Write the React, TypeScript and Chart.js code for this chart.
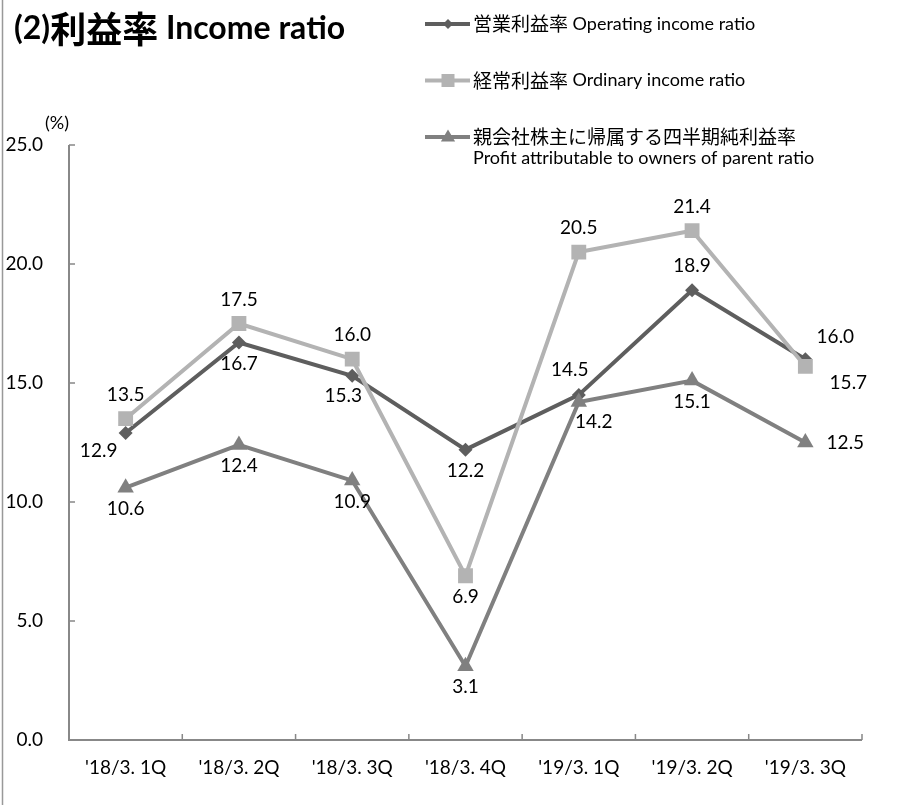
import React, { useEffect, useRef } from 'react';
import { Chart, registerables } from 'chart.js';

Chart.register(...registerables);

// ---------- data ----------
const categories = ["'18/3. 1Q", "'18/3. 2Q", "'18/3. 3Q", "'18/3. 4Q", "'19/3. 1Q", "'19/3. 2Q", "'19/3. 3Q"];
const operatingRatio = [12.9, 16.7, 15.3, 12.2, 14.5, 18.9, 16.0];
const ordinaryRatio = [13.5, 17.5, 16.0, 6.9, 20.5, 21.4, 15.7];
const profitRatio = [10.6, 12.4, 10.9, 3.1, 14.2, 15.1, 12.5];
const yTicks = [0, 5, 10, 15, 20, 25];
const yUnit = '(%)';
const titleParts = ['(2)', '利益率', ' Income ratio'];
const seriesNamesJa = ['営業利益率', '経常利益率', '親会社株主に帰属する四半期純利益率'];
const seriesNamesEn = ['Operating income ratio', 'Ordinary income ratio', 'Profit attributable to owners of parent ratio'];

// label placement codes
const operatingLabelPos = ['bl', 'b', 'bL', 'b', 'aL', 'a', 'ar'];
const ordinaryLabelPos = ['a', 'a', 'a', 'b', 'a', 'a', 'br'];
const profitLabelPos = ['b', 'b', 'b', 'b', 'bR', 'b', 'r'];

// ---------- style ----------
const LATIN = "Lato, 'Noto Sans CJK JP', sans-serif";
const CJK = "'Noto Sans CJK JP', sans-serif";
const seriesColors = ['#5e5e5e', '#b3b3b3', '#808080'];
const pointStyles = ['rectRot', 'rect', 'triangle'];
const pointRadii = [7, 10.5, 9.5];
const axisColor = '#888888';
const placeOffset: Record<string, [number, number]> = {
  a: [0, -24],
  aL: [-9, -25],
  b: [0, 21],
  bL: [-9, 20],
  bR: [15, 20],
  bl: [-27, 18],
  ar: [30, -22],
  br: [43, 17],
  r: [40, 0],
};

function drawSegments(ctx: CanvasRenderingContext2D, x: number, y: number, segs: [string, string][]) {
  ctx.textAlign = 'left';
  ctx.textBaseline = 'middle';
  let cx = x;
  for (const [t, f] of segs) {
    ctx.font = f;
    ctx.fillText(t, cx, y);
    cx += ctx.measureText(t).width;
  }
}

function drawMarker(ctx: CanvasRenderingContext2D, style: string, x: number, y: number, r: number, color: string) {
  ctx.save();
  ctx.fillStyle = color;
  ctx.beginPath();
  if (style === 'rectRot') {
    ctx.moveTo(x - r, y);
    ctx.lineTo(x, y - r);
    ctx.lineTo(x + r, y);
    ctx.lineTo(x, y + r);
  } else if (style === 'rect') {
    ctx.rect(x - r, y - r, 2 * r, 2 * r);
  } else {
    ctx.moveTo(x, y - r);
    ctx.lineTo(x + r * 0.95, y + r * 0.6);
    ctx.lineTo(x - r * 0.95, y + r * 0.6);
  }
  ctx.closePath();
  ctx.fill();
  ctx.restore();
}

const decorPlugin = {
  id: 'decor',
  beforeDatasetsDraw(chart: any) {
    const ctx: CanvasRenderingContext2D = chart.ctx;
    const { left, right, bottom } = chart.chartArea;
    const yScale = chart.scales.y;
    const n = categories.length;
    ctx.save();
    // outer frame line on the left
    ctx.strokeStyle = '#999999';
    ctx.lineWidth = 1.5;
    ctx.beginPath();
    ctx.moveTo(2.5, 0);
    ctx.lineTo(2.5, chart.height);
    ctx.stroke();

    ctx.strokeStyle = axisColor;
    ctx.lineWidth = 2;
    const yTop = yScale.getPixelForValue(yTicks[yTicks.length - 1]);
    ctx.beginPath();
    ctx.moveTo(left, yTop);
    ctx.lineTo(left, bottom);
    ctx.lineTo(right, bottom);
    ctx.stroke();
    ctx.lineWidth = 1.5;
    ctx.beginPath();
    for (const v of yTicks) {
      const y = yScale.getPixelForValue(v);
      ctx.moveTo(left, y);
      ctx.lineTo(left + 6, y);
    }
    for (let i = 0; i <= n; i++) {
      const x = left + ((right - left) * i) / n;
      ctx.moveTo(x, bottom);
      ctx.lineTo(x, bottom - 6);
    }
    ctx.stroke();
    ctx.restore();
  },
  afterDatasetsDraw(chart: any) {
    const ctx: CanvasRenderingContext2D = chart.ctx;
    ctx.save();
    // data labels
    ctx.fillStyle = '#000';
    ctx.font = `19px ${LATIN}`;
    ctx.textAlign = 'center';
    ctx.textBaseline = 'middle';
    chart.data.datasets.forEach((ds: any, di: number) => {
      const meta = chart.getDatasetMeta(di);
      meta.data.forEach((pt: any, j: number) => {
        const off = placeOffset[ds.labelPos[j]] || [0, -24];
        ctx.fillText(Number(ds.data[j]).toFixed(1), pt.x + off[0], pt.y + off[1]);
      });
    });

    // unit
    ctx.font = `18px ${LATIN}`;
    ctx.fillText(yUnit, 57, 123);

    // title
    ctx.fillStyle = '#000';
    drawSegments(ctx, 14, 29, [
      [titleParts[0], `bold 32px ${LATIN}`],
      [titleParts[1], `bold 36px ${CJK}`],
      [titleParts[2], `bold 32px ${LATIN}`],
    ]);

    // legend
    for (let i = 0; i < seriesNamesJa.length; i++) {
      const y = 24 + i * 56.5;
      ctx.strokeStyle = seriesColors[i];
      ctx.lineWidth = 4;
      ctx.beginPath();
      ctx.moveTo(425, y);
      ctx.lineTo(470, y);
      ctx.stroke();
      const r = i === 0 ? 5 : i === 1 ? 6.5 : 7.5;
      drawMarker(ctx, pointStyles[i], 448, y, r, seriesColors[i]);
      ctx.fillStyle = '#000';
      if (i < 2) {
        drawSegments(ctx, 473, y, [
          [seriesNamesJa[i], `19px ${CJK}`],
          [' ' + seriesNamesEn[i], `18px ${LATIN}`],
        ]);
      } else {
        drawSegments(ctx, 473, y, [[seriesNamesJa[i], `19px ${CJK}`]]);
        drawSegments(ctx, 473, y + 21, [[seriesNamesEn[i], `18px ${LATIN}`]]);
      }
    }
    ctx.restore();
  },
};

export default function App() {
  const ref = useRef<HTMLCanvasElement>(null);
  useEffect(() => {
    const seriesData = [operatingRatio, ordinaryRatio, profitRatio];
    const labelPositions = [operatingLabelPos, ordinaryLabelPos, profitLabelPos];
    const chart = new Chart(ref.current as HTMLCanvasElement, {
      type: 'line',
      data: {
        labels: categories,
        datasets: seriesData.map((d, i) => ({
          label: seriesNamesEn[i],
          data: d,
          borderColor: seriesColors[i],
          backgroundColor: seriesColors[i],
          borderWidth: 4,
          pointStyle: pointStyles[i] as any,
          pointRadius: pointRadii[i],
          pointBorderWidth: 0,
          pointBackgroundColor: seriesColors[i],
          tension: 0,
          fill: false,
          order: 3 - i,
          labelPos: labelPositions[i],
        })) as any,
      },
      options: {
        responsive: false,
        devicePixelRatio: 1,
        animation: false,
        layout: { padding: { left: 0, right: 38, top: 145, bottom: 0 } },
        plugins: { legend: { display: false }, tooltip: { enabled: false }, title: { display: false } },
        scales: {
          x: {
            type: 'category',
            offset: true,
            grid: { display: false, drawTicks: false },
            border: { display: false },
            ticks: { color: '#000', font: { family: LATIN, size: 19 }, padding: 16, maxRotation: 0, autoSkip: false },
            afterFit: (s: any) => {
              s.height = 65;
            },
          },
          y: {
            min: 0,
            max: 25,
            grid: { display: false, drawTicks: false },
            border: { display: false },
            ticks: {
              color: '#000',
              font: { family: LATIN, size: 19 },
              padding: 26,
              callback: (v: any) => Number(v).toFixed(1),
            },
            afterBuildTicks: (s: any) => {
              s.ticks = yTicks.map((v) => ({ value: v }));
            },
            afterFit: (s: any) => {
              s.width = 69;
            },
          },
        },
      },
      plugins: [decorPlugin],
    } as any);
    return () => chart.destroy();
  }, []);
  return (
    <div style={{ position: 'absolute', left: 0, top: 0, width: 900, height: 805, background: '#fff' }}>
      <canvas ref={ref} width={900} height={805} style={{ display: 'block', width: 900, height: 805 }} />
    </div>
  );
}
